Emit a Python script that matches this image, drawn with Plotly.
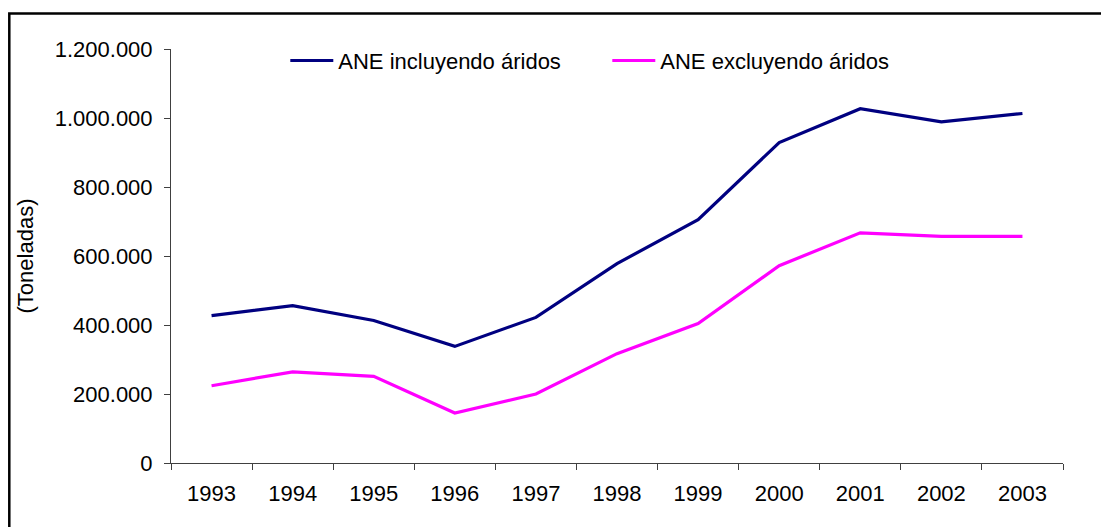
import plotly.graph_objects as go

years = ["1993", "1994", "1995", "1996", "1997", "1998", "1999", "2000", "2001", "2002", "2003"]
ane_incluyendo = [427000, 456000, 413000, 338000, 422000, 578000, 705000, 929000, 1027000, 989000, 1013000]
ane_excluyendo = [224000, 264000, 251000, 145000, 200000, 317000, 404000, 572000, 667000, 657000, 657000]
y_ticks = [0, 200000, 400000, 600000, 800000, 1000000, 1200000]

FONT = "Liberation Sans, Arial, sans-serif"
FS = 22

fig = go.Figure()
fig.add_trace(go.Scatter(x=years, y=ane_incluyendo, mode="lines", name="ANE incluyendo áridos",
                         line=dict(color="#000080", width=3.2)))
fig.add_trace(go.Scatter(x=years, y=ane_excluyendo, mode="lines", name="ANE excluyendo áridos",
                         line=dict(color="#FF00FF", width=3.2)))

# the page body has an 8px margin, so the figure is laid out in coordinates shifted by 8px
W, H = 1101, 519
L, R, T, B = 162.7, 46.3, 41, 63.7
pw, ph = W - L - R, H - T - B

def px_x(p):
    return (p - L) / pw

def px_y(p):
    return (H - B - p) / ph

fig.update_layout(
    width=W, height=H,
    margin=dict(l=L, r=R, t=T, b=B, pad=0),
    paper_bgcolor="white", plot_bgcolor="white",
    separators=",.",
    font=dict(family=FONT, size=FS, color="black"),
    showlegend=True,
    legend=dict(orientation="h", x=px_x(277), xanchor="left", y=px_y(52.7), yanchor="middle",
                bgcolor="rgba(0,0,0,0)", font=dict(family=FONT, size=FS, color="black"),
                entrywidth=264, entrywidthmode="pixels", itemwidth=43, tracegroupgap=0),
    xaxis=dict(type="category", range=[-0.5, 10.5], showgrid=False, zeroline=False,
               showline=True, linecolor="#404040", linewidth=1,
               ticks="outside", ticklen=6, tickcolor="#404040", tickwidth=1,
               tickson="boundaries", ticklabelstandoff=11,
               tickfont=dict(family=FONT, size=FS, color="black")),
    yaxis=dict(range=[0, 1200000], tickvals=y_ticks, tickformat=",.0f", showgrid=False,
               zeroline=False, showline=True, linecolor="#404040", linewidth=1,
               ticks="outside", ticklen=6, tickcolor="#404040", tickwidth=1,
               ticklabelstandoff=7,
               tickfont=dict(family=FONT, size=FS, color="black"),
               title=dict(text="(Toneladas)", standoff=15,
                          font=dict(family=FONT, size=FS, color="black"))),
    shapes=[dict(type="rect", xref="paper", yref="paper",
                 x0=px_x(1), x1=px_x(1130), y0=px_y(5.5), y1=px_y(540),
                 line=dict(color="black", width=2.5), fillcolor="rgba(0,0,0,0)", layer="above")],
)

fig.write_html("out.html")
